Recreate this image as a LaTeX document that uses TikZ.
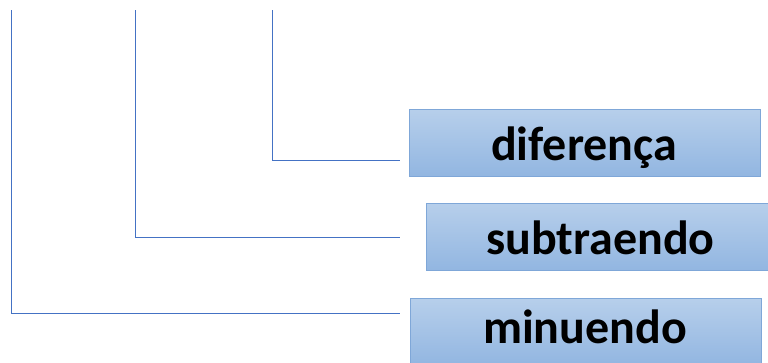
\documentclass[tikz,border=0pt]{standalone}
\usepackage{fontspec}
\setmainfont{Carlito}
\definecolor{lineblue}{HTML}{4472C4}
\definecolor{boxtop}{HTML}{B7CFEB}
\definecolor{boxbot}{HTML}{92B6E1}
\definecolor{boxedge}{HTML}{7FA7D8}
\begin{document}
\begin{tikzpicture}[x=1pt,y=-1pt,
  termbox/.style={draw=boxedge, line width=1pt, top color=boxtop, bottom color=boxbot,
    minimum height=67pt, inner sep=0pt},
  termtext/.style={anchor=base, inner sep=0pt, font=\fontsize{48}{54}\selectfont\bfseries, text=black},
  conn/.style={draw=lineblue, line width=0.9pt}]
\useasboundingbox (0,0) rectangle (768,362);
\begin{scope}
\clip (0,0) rectangle (768,362);
\node[termbox, minimum width=351pt] (dif) at (584.5,142.5) {};
\node[termbox, minimum width=349pt] (sub) at (600.5,236.5) {};
\node[termbox, minimum width=351pt] (min) at (585.5,331.5) {};
\end{scope}
\node[termtext] (difT) at (584,160) {diferença};
\node[termtext] (subT) at (600.5,254) {subtraendo};
\node[termtext] (minT) at (585,343) {minuendo};
\coordinate (t1) at (272,10);
\coordinate (t2) at (135,10);
\coordinate (t3) at (11,10);
\coordinate (e1) at (400,160);
\coordinate (e2) at (400,237);
\coordinate (e3) at (400,313);
\draw[conn] (t1) |- (e1);
\draw[conn] (t2) |- (e2);
\draw[conn] (t3) |- (e3);
\end{tikzpicture}
\end{document}
